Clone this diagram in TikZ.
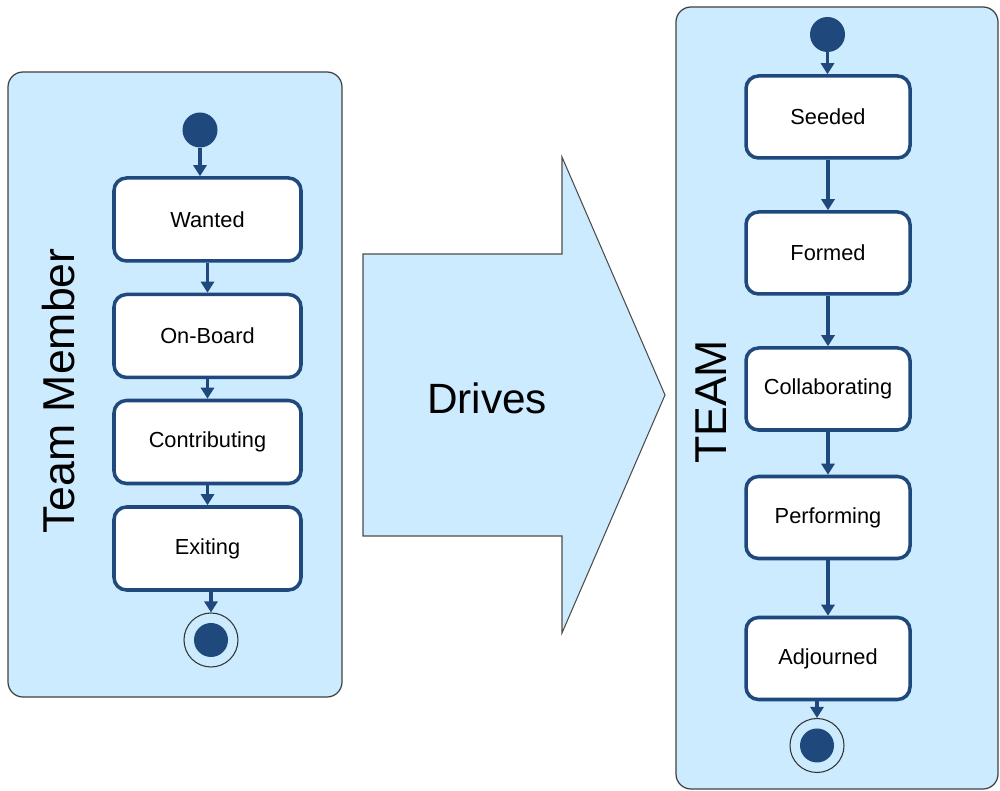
\documentclass[tikz,border=0pt]{standalone}
\usepackage{fontspec}
\setmainfont{Liberation Sans}
\usepackage{tikz}
\usetikzlibrary{arrows.meta,positioning}
\definecolor{panelblue}{HTML}{CCEBFF}
\definecolor{stateblue}{HTML}{1F497D}

\begin{document}
\begin{tikzpicture}[
    panel/.style={draw=black!75, fill=panelblue, rounded corners=0.3cm, line width=0.7pt},
    state/.style={draw=stateblue, fill=white, rounded corners=0.25cm, line width=2pt, minimum width=3.74cm, minimum height=1.66cm, align=center, font=\fontsize{12.4}{14}\selectfont},
    statet/.style={state, minimum width=3.28cm, minimum height=1.64cm},
    dot/.style={circle, fill=stateblue, minimum size=0.70cm, inner sep=0pt},
    ring/.style={circle, draw=black!80, fill=panelblue, line width=0.6pt, minimum size=1.08cm, inner sep=0pt},
    title/.style={rotate=90, font=\fontsize{25.4}{30}\selectfont},
    flow/.style={draw=stateblue, line width=2pt, -{Triangle[width=0.26cm, length=0.22cm]}}
]
\useasboundingbox (0,0) rectangle (20,15.82);
% containers
\draw[panel] (0.16,1.88) rectangle (6.84,14.38);
\draw[panel] (13.52,0.04) rectangle (19.96,15.68);
% big arrow
\draw[draw=black!70, fill=panelblue, line width=0.6pt] (7.26,10.74) -- (11.24,10.74) -- (11.24,12.68) -- (13.30,7.92) -- (11.24,3.16) -- (11.24,5.10) -- (7.26,5.10) -- cycle;
\node[font=\fontsize{24.1}{28}\selectfont] (drives) at (9.74,7.86) {Drives};
% team member
\node[title] (tmlabel) at (1.18,8.00) {Team Member};
\node[dot] (initTM) at (4.00,13.22) {};
\node[state] (wanted) at (4.15,11.43) {Wanted};
\node[state] (onboard) at (4.15,9.10) {On-Board};
\node[state] (contrib) at (4.15,6.98) {Contributing};
\node[state] (exiting) at (4.15,4.85) {Exiting};
\node[ring] (finalTM) at (4.22,3.02) {};
\node[dot, minimum size=0.68cm] (finalTMdot) at (finalTM) {};
\draw[flow] (initTM.south) -- (initTM |- wanted.north);
\draw[flow] (wanted) -- (onboard);
\draw[flow] (onboard) -- (contrib);
\draw[flow] (contrib) -- (exiting);
\draw[flow] (finalTM |- exiting.south) -- (finalTM.north);
% team
\node[title] (teamlabel) at (14.22,7.78) {TEAM};
\node[dot] (initT) at (16.55,15.13) {};
\node[statet] (seeded) at (16.56,13.48) {Seeded};
\node[statet] (formed) at (16.56,10.76) {Formed};
\node[statet] (collab) at (16.56,8.04) {Collaborating};
\node[statet] (perform) at (16.56,5.47) {Performing};
\node[statet] (adjourned) at (16.56,2.65) {Adjourned};
\node[ring] (finalT) at (16.34,0.91) {};
\node[dot, minimum size=0.68cm] (finalTdot) at (finalT) {};
\draw[flow] (initT.south) -- (initT |- seeded.north);
\draw[flow] (seeded) -- (formed);
\draw[flow] (formed) -- (collab);
\draw[flow] (collab) -- (perform);
\draw[flow] (perform) -- (adjourned);
\draw[flow] (finalT |- adjourned.south) -- (finalT.north);
\end{tikzpicture}
\end{document}
